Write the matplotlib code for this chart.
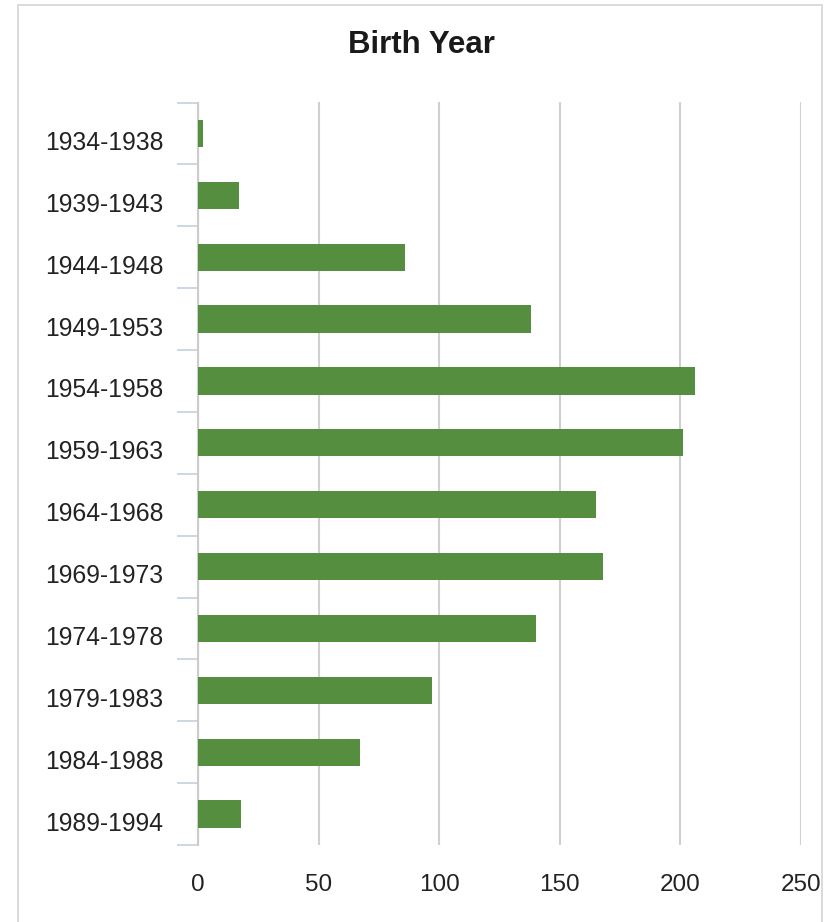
import matplotlib
matplotlib.use('Agg')
import matplotlib.pyplot as plt
import numpy as np
from matplotlib.patches import Rectangle
from matplotlib.transforms import ScaledTranslation

plt.rcParams['font.family'] = ['Liberation Sans', 'DejaVu Sans']

# Birth year groups and counts
groups = ['1934-1938', '1939-1943', '1944-1948', '1949-1953', '1954-1958', '1959-1963',
          '1964-1968', '1969-1973', '1974-1978', '1979-1983', '1984-1988', '1989-1994']
counts = [2, 17, 86, 138, 206, 201, 165, 168, 140, 97, 67, 18]
x_ticks = [0, 50, 100, 150, 200, 250]

fig = plt.figure(figsize=(8.31, 9.22), dpi=100)
ax = fig.add_axes([198 / 831, 77 / 922, 603 / 831, 742.5 / 922])

# light frame around the chart
fig.patches.append(Rectangle((18 / 831, -0.01), 804 / 831, 1 - 5 / 922 + 0.01,
                             transform=fig.transFigure, fill=False,
                             edgecolor='#d4d4d4', linewidth=1.2))

y = np.arange(len(groups))
ax.barh(y, counts, height=0.44, color='#568e3f', zorder=3)

ax.set_xlim(0, 250)
ax.set_ylim(len(groups) - 0.5, -0.5)
ax.set_xticks(x_ticks)
ax.set_xticklabels([str(v) for v in x_ticks], fontsize=17.5, color='#222222')
ax.xaxis.grid(True, color='#d0d0d0', linewidth=1.5, zorder=0)
ax.tick_params(axis='x', length=0, pad=21)

ax.set_yticks(y)
ax.set_yticklabels(groups, fontsize=17.8, color='#222222')
ax.set_yticks(np.arange(-0.5, len(groups)), minor=True)
ax.tick_params(axis='y', which='major', length=0, pad=25)
ax.tick_params(axis='y', which='minor', length=15, width=1.3, color='#c8d4e4')
offset = ScaledTranslation(0, -0.07, fig.dpi_scale_trans)
for lbl in ax.get_yticklabels():
    lbl.set_transform(lbl.get_transform() + offset)

for side in ['top', 'right', 'bottom']:
    ax.spines[side].set_visible(False)
ax.spines['left'].set_color('#cccccc')
ax.spines['left'].set_linewidth(1.5)

fig.text(421 / 831, 1 - 45 / 922, 'Birth Year', ha='center', va='center',
         fontsize=22.5, fontweight='bold', color='#1a1a1a')

fig.savefig('out.png', dpi=100)
